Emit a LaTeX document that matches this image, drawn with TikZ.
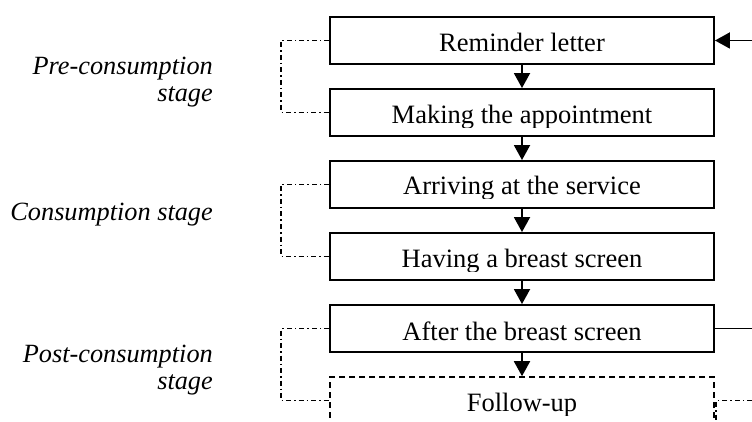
\documentclass[tikz,border=0pt]{standalone}
\usepackage{fontspec}
\setmainfont{Liberation Serif}
\usetikzlibrary{arrows.meta}
\tikzset{
  stagebox/.style={draw, line width=1.9pt, minimum width=384pt, minimum height=47pt, inner sep=0pt},
  dashbox/.style={stagebox, dash pattern=on 6pt off 4pt, line width=1.6pt},
  boxtxt/.style={anchor=base, inner sep=0pt, font=\fontsize{26.5}{30}\selectfont},
  stagetxt/.style={anchor=base east, inner sep=0pt, font=\fontsize{26.3}{30}\selectfont\itshape},
  flow/.style={line width=1.9pt, -{Triangle[width=16pt,length=15pt]}},
  plainline/.style={line width=1.9pt},
  bracket/.style={line width=1.3pt, dash pattern=on 5pt off 3pt on 1.5pt off 3pt}
}
\begin{document}
\begin{tikzpicture}[x=1pt,y=-1pt]
\useasboundingbox (0,0) rectangle (752,422);
% boxes
\node[stagebox] (b1) at (522,40.5) {};
\node[stagebox] (b2) at (522,112.5) {};
\node[stagebox] (b3) at (522,184.5) {};
\node[stagebox] (b4) at (522,256.5) {};
\node[stagebox] (b5) at (522,328.5) {};
\node[dashbox] (b6) at (522,400.5) {};
% texts (descenders clipped as in the reference)
\begin{scope}\clip (330,17) rectangle (714,55.5);
\node[boxtxt] (t1) at (522,51.5) {Reminder letter};\end{scope}
\begin{scope}\clip (330,89) rectangle (714,127.5);
\node[boxtxt] (t2) at (522,123.5) {Making the appointment};\end{scope}
\begin{scope}\clip (330,161) rectangle (714,199);
\node[boxtxt] (t3) at (522,195) {Arriving at the service};\end{scope}
\begin{scope}\clip (330,233) rectangle (714,271.5);
\node[boxtxt] (t4) at (522,267.5) {Having a breast screen};\end{scope}
\begin{scope}\clip (330,305) rectangle (714,344);
\node[boxtxt] (t5) at (522,340) {After the breast screen};\end{scope}
\begin{scope}\clip (330,377) rectangle (714,415.5);
\node[boxtxt] (t6) at (522,411.5) {Follow-up};\end{scope}
% flow arrows
\draw[flow] (b1.south) -- (b2.north);
\draw[flow] (b2.south) -- (b3.north);
\draw[flow] (b3.south) -- (b4.north);
\draw[flow] (b4.south) -- (b5.north);
\draw[flow] (b5.south) -- (b6.north);
% right side
\coordinate (r1) at (752,40.5);
\coordinate (r5) at (752,328.5);
\coordinate (r6) at (752,400.5);
\coordinate (r6c) at (716,400.5);
\coordinate (r6d) at (716,430);
\draw[flow] (r1) -- (b1.east);
\draw[plainline] (b5.east) -- (r5);
\draw[bracket] (r6) -- (r6c) -- (r6d);
% left brackets
\draw[bracket] (b1.west) -- ++(-48,0) |- (b2.west);
\draw[bracket] (b3.west) -- ++(-48,0) |- (b4.west);
\draw[bracket] (b5.west) -- ++(-48,0) |- (b6.west);
% stage labels
\node[stagetxt] (s1a) at (213,75) {Pre-consumption};
\node[stagetxt] (s1b) at (213,102) {stage};
\node[stagetxt] (s2) at (213,220) {Consumption stage};
\node[stagetxt] (s3a) at (213,362.5) {Post-consumption};
\node[stagetxt] (s3b) at (213,389.5) {stage};
\end{tikzpicture}
\end{document}
